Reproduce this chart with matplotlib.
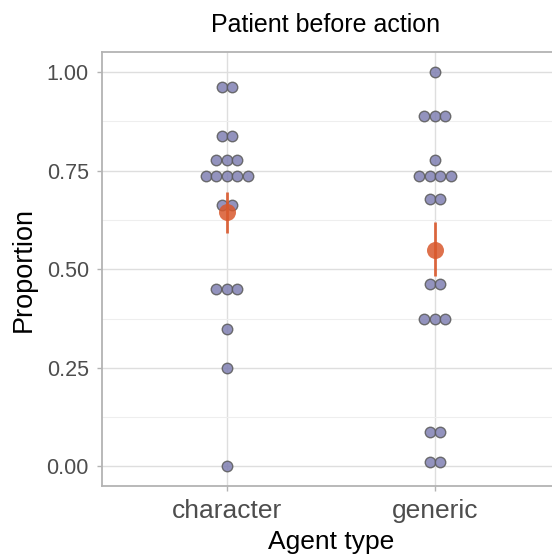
import matplotlib
matplotlib.use("Agg")
import matplotlib.pyplot as plt
import numpy as np
from collections import Counter

plt.rcParams['font.family'] = ['Liberation Sans', 'DejaVu Sans']

# per-participant proportions for each agent type
agent_types = ['character', 'generic']
character_props = [0.963, 0.963, 0.837, 0.837, 0.776, 0.776, 0.776,
                   0.737, 0.737, 0.737, 0.737, 0.737, 0.664, 0.664,
                   0.451, 0.451, 0.451, 0.349, 0.249, 0.0]
generic_props = [1.0, 0.888, 0.888, 0.888, 0.776, 0.737, 0.737, 0.737,
                 0.737, 0.677, 0.677, 0.462, 0.462, 0.374, 0.374, 0.374,
                 0.086, 0.086, 0.012, 0.012]

# group means with error bar limits
means = [0.644, 0.550]
lower = [0.592, 0.482]
upper = [0.696, 0.619]

dot_fill = '#8080b3'
dot_edge = '#5a5a5a'
mean_col = '#d9582c'

fig = plt.figure(figsize=(5.52, 5.58), dpi=100)
ax = fig.add_axes([0.1848, 0.129, 0.829, 0.777])
ax.set_xlim(-0.6, 1.6)
ax.set_ylim(-0.05, 1.05)

# width of one dot in data units (dots sit side by side)
dot_px = 10.5
ax_w_px = 0.829 * 552
dot_w = dot_px / ax_w_px * 2.2

for i, props in enumerate([character_props, generic_props]):
    counts = Counter(props)
    for val, n in counts.items():
        offs = (np.arange(n) - (n - 1) / 2) * dot_w
        ax.scatter(i + offs, [val] * n, s=(dot_px * 0.72) ** 2,
                   facecolor=dot_fill, edgecolor=dot_edge, linewidth=1.0,
                   alpha=0.85, zorder=3)

for i in range(len(agent_types)):
    ax.plot([i, i], [lower[i], upper[i]], color=mean_col, lw=2.0,
            alpha=0.9, zorder=5, solid_capstyle='butt')
    ax.scatter([i], [means[i]], s=(17 * 0.72) ** 2, color=mean_col,
               alpha=0.85, linewidth=0, zorder=4)

ax.set_xticks(range(len(agent_types)))
ax.set_xticklabels(agent_types)
ax.set_yticks([0, 0.25, 0.5, 0.75, 1.0])
ax.set_yticklabels(['0.00', '0.25', '0.50', '0.75', '1.00'])
ax.set_yticks([0.125, 0.375, 0.625, 0.875], minor=True)

ax.grid(True, which='major', color='#dedede', lw=1.0)
ax.grid(True, which='minor', axis='y', color='#eeeeee', lw=0.8)
ax.set_axisbelow(True)

for sp in ax.spines.values():
    sp.set_color('#b3b3b3')
    sp.set_linewidth(1.3)

ax.tick_params(axis='both', which='major', color='#b3b3b3', length=3.5,
               width=1.0)
ax.tick_params(axis='y', which='minor', length=0)
ax.tick_params(axis='y', labelsize=15.5, labelcolor='#4d4d4d', pad=6)
ax.tick_params(axis='x', labelsize=19, labelcolor='#4d4d4d', pad=6)

ax.set_xlabel('Agent type', fontsize=19, labelpad=5)
ax.set_ylabel('Proportion', fontsize=19.5, labelpad=7)
ax.set_title('Patient before action', fontsize=18, pad=15)
ax.title.set_x((326 - 102.2) / 457.6)

fig.savefig('out.png', dpi=100)
